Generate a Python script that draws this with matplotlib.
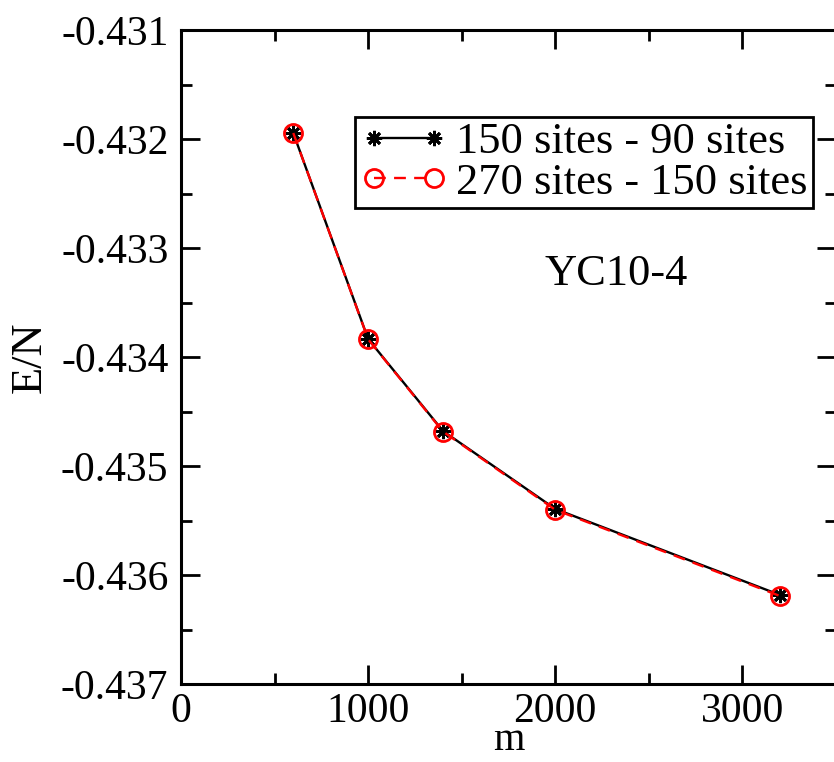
#!/usr/bin/env python3
"""Energy per site vs kept states m for YC10-4 cylinder differences."""

import matplotlib

matplotlib.use("Agg")
import matplotlib.pyplot as plt
from matplotlib.ticker import MultipleLocator

plt.rcParams["font.family"] = ["Liberation Serif", "DejaVu Serif"]

M_VALUES = [600, 1000, 1400, 2000, 3200]
E_150_90 = [-0.431945, -0.433835, -0.434679, -0.435394, -0.436183]
E_270_150 = [-0.431945, -0.433838, -0.434684, -0.435402, -0.436192]

LABEL_150_90 = "150 sites - 90 sites"
LABEL_270_150 = "270 sites - 150 sites"

ASTERISK = (8, 2, 0)

fig = plt.figure(figsize=(8.34, 7.62), dpi=100)
ax = fig.add_axes([181 / 834, 1 - 684 / 762, 655 / 834, 654 / 762])

ax.plot(
    M_VALUES,
    E_150_90,
    color="black",
    linewidth=1.7,
    marker=ASTERISK,
    markersize=11,
    markeredgewidth=2,
    label=LABEL_150_90,
)
ax.plot(
    M_VALUES,
    E_270_150,
    color="red",
    linewidth=1.7,
    linestyle=(0, (5, 3.5)),
    marker="o",
    markersize=13,
    markerfacecolor="none",
    markeredgecolor="red",
    markeredgewidth=2,
    label=LABEL_270_150,
)

ax.set_xlim(0, 3500)
ax.set_ylim(-0.437, -0.431)
ax.xaxis.set_major_locator(MultipleLocator(1000))
ax.xaxis.set_minor_locator(MultipleLocator(500))
ax.yaxis.set_major_locator(MultipleLocator(0.001))
ax.yaxis.set_minor_locator(MultipleLocator(0.0005))
ax.yaxis.set_major_formatter(lambda v, _: f"{v:.3f}".replace("\u2212", "-"))

ax.tick_params(which="both", direction="in", top=True, right=True, width=2)
ax.tick_params(which="major", length=14, labelsize=30)
ax.tick_params(axis="y", which="major", pad=9)
ax.tick_params(axis="x", which="major", pad=6)
ax.tick_params(which="minor", length=8)
for spine in ax.spines.values():
    spine.set_linewidth(2.2)

ax.set_xlabel("m", fontsize=29, labelpad=-6)
ax.set_ylabel("E/N", fontsize=32, labelpad=8)

ax.text(0.665, 0.627, "YC10-4", transform=ax.transAxes, fontsize=32,
        ha="center", va="center")

leg = ax.legend(
    loc="upper left",
    bbox_to_anchor=(355 / 834, 1 - 117 / 762),
    bbox_transform=fig.transFigure,
    fontsize=32,
    numpoints=2,
    frameon=True,
    fancybox=False,
    framealpha=1,
    edgecolor="black",
    borderpad=0.12,
    labelspacing=0.0,
    handlelength=1.95,
    handletextpad=0.2,
    borderaxespad=0,
)
leg.get_frame().set_linewidth(2)

fig.savefig("out.png", dpi=100)
